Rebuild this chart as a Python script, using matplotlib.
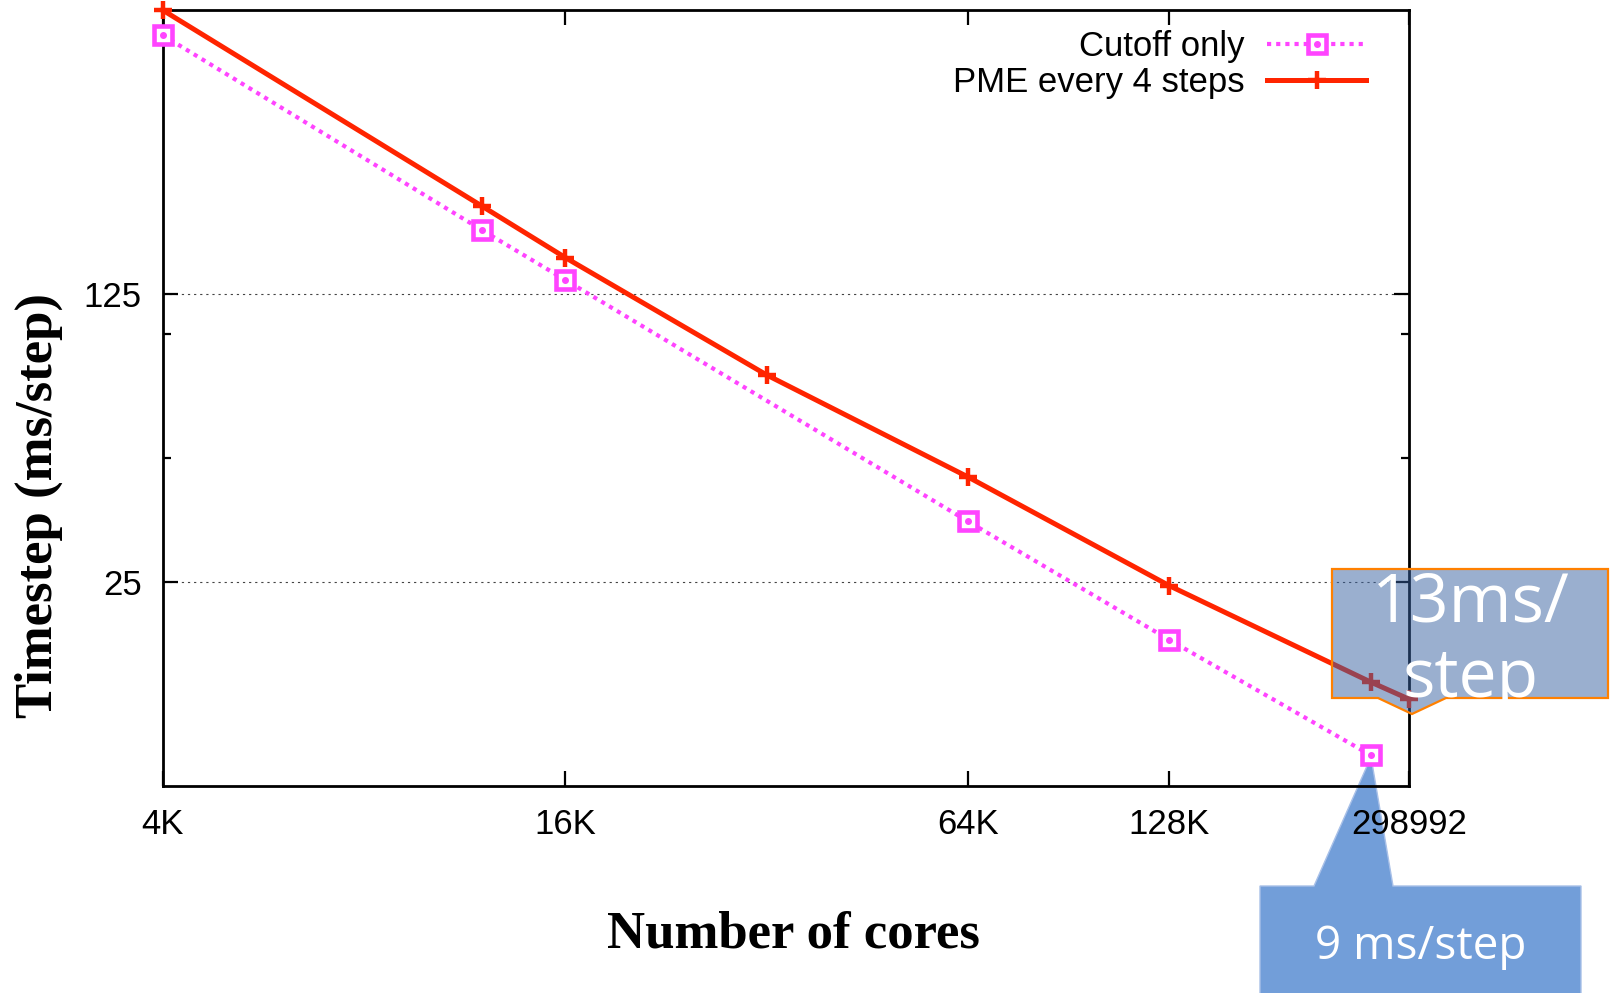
import matplotlib
matplotlib.use("Agg")
import matplotlib.pyplot as plt
from matplotlib.ticker import FixedLocator, NullFormatter, NullLocator
from matplotlib.patches import Polygon
from matplotlib.legend_handler import HandlerTuple

# data
cores_pme = [4096, 12288, 16384, 32768, 65536, 131072, 262144, 298992]
pme = [612, 204.7, 153.4, 79.6, 45.0, 24.5, 14.3, 13.0]
cores_cut = [4096, 12288, 16384, 65536, 131072, 262144]
cutoff = [532, 179, 135.4, 35.1, 18.1, 9.5]

xticks = [4096, 16384, 65536, 131072, 298992]
xticklabels = ['4K', '16K', '64K', '128K', '298992']
yticks = [25, 125]
yminor = [50, 100]

W, H = 1610, 993
fig = plt.figure(figsize=(W / 100, H / 100), dpi=100, facecolor='white')
ax = fig.add_axes([162.5 / W, 1 - 786 / H, (1409 - 162.5) / W, (786 - 10) / H])
ax.set_facecolor('none')

magenta = '#ff44ff'
red = '#ff2400'

cut_line, = ax.plot(cores_cut, cutoff, color=magenta, lw=3, linestyle=(0, (1.0, 1.2)),
                    marker='s', ms=13, mew=3.3, mfc='white', mec=magenta,
                    clip_on=False, zorder=3, label='Cutoff only')
cut_dot, = ax.plot(cores_cut, cutoff, linestyle='none', marker='o', ms=4,
                   color=magenta, clip_on=False, zorder=4)
pme_line, = ax.plot(cores_pme, pme, color=red, lw=3.6, marker='+', ms=13, mew=3.2,
                    clip_on=False, zorder=5, label='PME every 4 steps')

ax.set_xscale('log')
ax.set_yscale('log')
ax.set_xlim(4096, 298992)
ax.set_ylim(8, 612)

ax.xaxis.set_major_locator(FixedLocator(xticks))
ax.set_xticklabels(xticklabels)
ax.xaxis.set_minor_locator(NullLocator())
ax.yaxis.set_major_locator(FixedLocator(yticks))
ax.set_yticklabels([str(v) for v in yticks])
ax.yaxis.set_minor_locator(FixedLocator(yminor))
ax.yaxis.set_minor_formatter(NullFormatter())

ax.tick_params(which='both', direction='in', top=True, right=True, width=1.6, color='black')
ax.tick_params(which='major', length=11)
ax.tick_params(which='minor', length=5.5)
ax.tick_params(axis='x', which='major', pad=16)
ax.tick_params(axis='y', which='major', pad=15)
for lab in ax.get_xticklabels() + ax.get_yticklabels():
    lab.set_fontfamily('Liberation Sans')
    lab.set_fontsize(25)

for s in ax.spines.values():
    s.set_linewidth(2)

ax.yaxis.grid(True, which='major', color='#444444', lw=0.8, linestyle=(0, (2, 3.5)))
ax.xaxis.grid(False)

leg = ax.legend(handles=[(cut_line, cut_dot), pme_line],
                labels=['Cutoff only', 'PME every 4 steps'],
                handler_map={tuple: HandlerTuple(ndivide=1)},
                loc='upper right', bbox_to_anchor=(0.9655, 0.974),
                frameon=False, markerfirst=False, numpoints=1,
                handlelength=2.85, handletextpad=0.65, labelspacing=0.08,
                borderpad=0, borderaxespad=0,
                prop={'family': 'Liberation Sans', 'size': 25})

fig.text(793 / W, 1 - 948 / H, 'Number of cores', ha='center', va='baseline',
         family='Liberation Serif', weight='bold', fontsize=38)
fig.text(39 / W, 1 - 506 / H, 'Timestep (ms/step)', ha='center', va='center', rotation=90,
         family='Liberation Serif', weight='bold', fontsize=38)


def fpx(pts):
    return [(x / W, 1 - y / H) for x, y in pts]


# callout over the PME end point (semi transparent)
call1 = Polygon(fpx([(1332, 569), (1608, 569), (1608, 698), (1446, 698), (1412, 714),
                     (1378, 698), (1332, 698)]),
                closed=True, transform=fig.transFigure,
                facecolor=(55 / 255, 97 / 255, 161 / 255, 0.5), edgecolor='#ff8000', lw=1.6,
                zorder=10)
fig.patches.append(call1)
fig.text(1471 / W, 1 - 622 / H, '13ms/', color='white', ha='center', va='baseline',
         family='Open Sans', fontsize=49, zorder=11)
fig.text(1471 / W, 1 - 697 / H, 'step', color='white', ha='center', va='baseline',
         family='Open Sans', fontsize=49, zorder=11)

# callout under the cutoff end point
call2 = Polygon(fpx([(1260, 886), (1314, 886), (1371, 757), (1393, 886), (1581, 886),
                     (1581, 1000), (1260, 1000)]),
                closed=True, transform=fig.transFigure,
                facecolor='#729ed9', edgecolor='#a8c0e8', lw=1, zorder=-1)
fig.patches.append(call2)
fig.text(1421 / W, 1 - 959 / H, '9 ms/step', color='white', ha='center', va='baseline',
         family='Open Sans', fontsize=33, zorder=11)

fig.savefig('out.png', dpi=100, facecolor='white')
